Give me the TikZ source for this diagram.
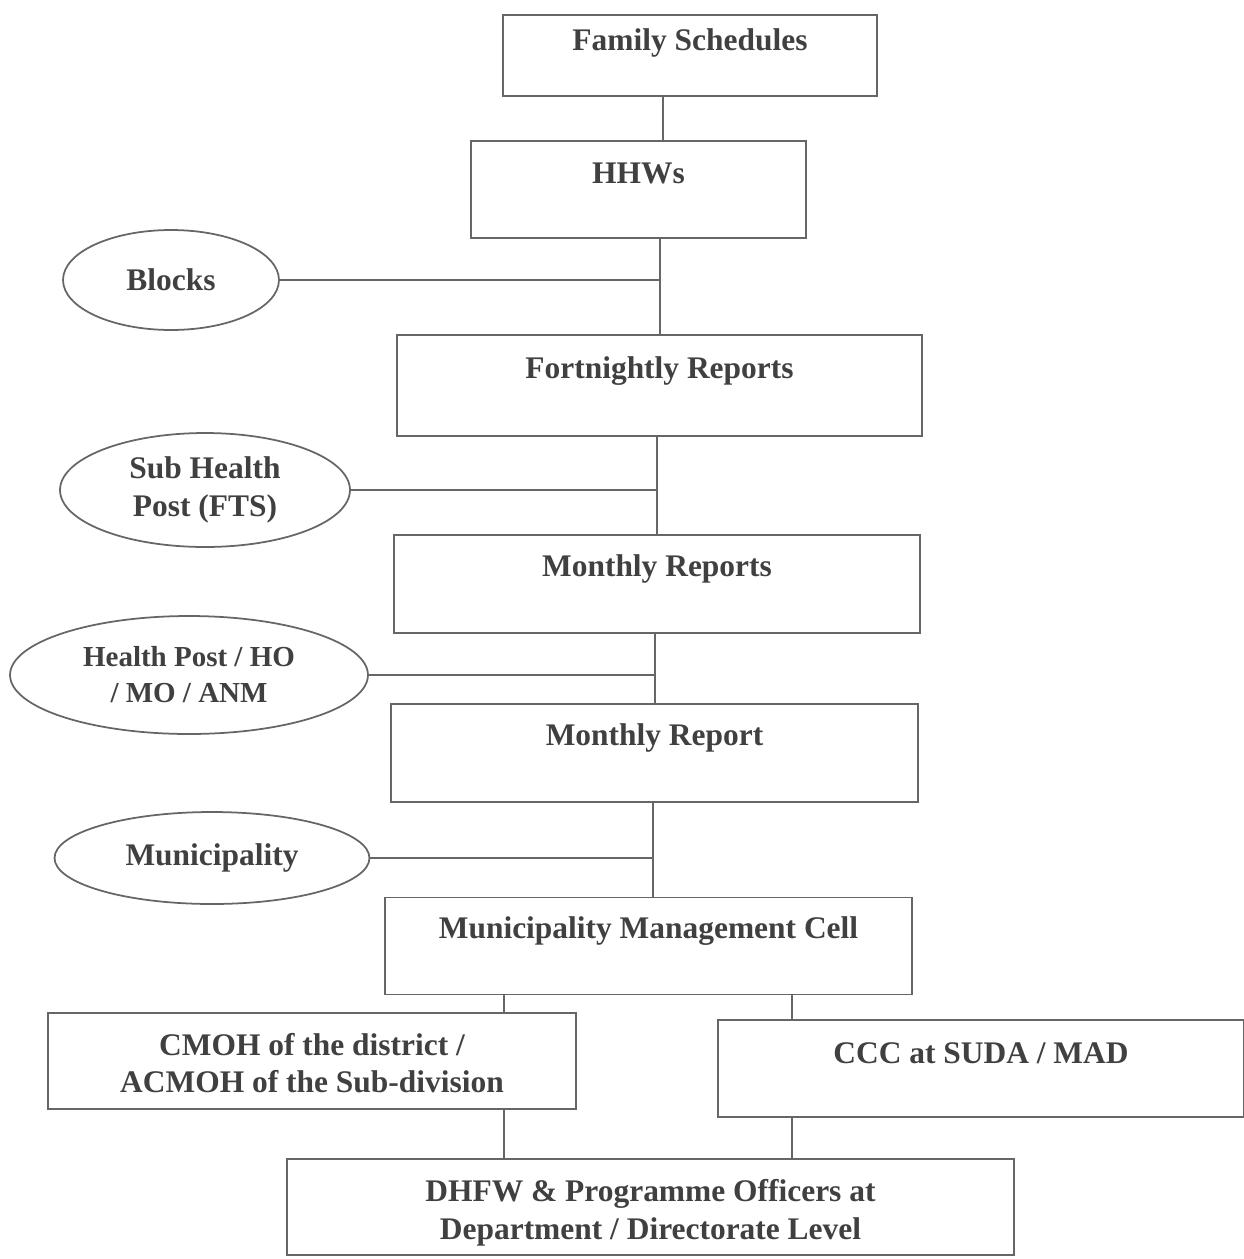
\documentclass[tikz,border=0pt]{standalone}
\usepackage{fontspec}
\setmainfont{Liberation Serif}
\usetikzlibrary{shapes.geometric}

\tikzset{
  box/.style={draw=black!60, line width=1pt, rectangle, inner sep=0pt},
  oval/.style={draw=black!60, line width=1pt, ellipse, inner sep=0pt, align=center,
    text=black!75, font=\fontsize{17.9}{21.5}\selectfont\bfseries},
  txt/.style={align=center, text=black!75, font=\fontsize{17.9}{21.5}\selectfont\bfseries},
  link/.style={draw=black!60, line width=1pt}
}

\begin{document}
\begin{tikzpicture}[x=0.02cm,y=-0.02cm]
\useasboundingbox (0,0) rectangle (1244,1259);

% report boxes down the middle
\node[box, minimum width=7.48cm, minimum height=1.62cm] (fam) at (690,55.5) {};
\node[box, minimum width=6.7cm, minimum height=1.94cm] (hhw) at (638.5,189.5) {};
\node[box, minimum width=10.5cm, minimum height=2.02cm] (fort) at (659.5,385.5) {};
\node[box, minimum width=10.52cm, minimum height=1.96cm] (mons) at (657,584) {};
\node[box, minimum width=10.54cm, minimum height=1.96cm] (mon) at (654.5,753) {};
\node[box, minimum width=10.54cm, minimum height=1.94cm] (mmc) at (648.5,946) {};
\node[box, minimum width=10.56cm, minimum height=1.92cm] (cmoh) at (312,1061) {};
\node[box, minimum width=10.52cm, minimum height=1.94cm] (ccc) at (981,1068.5) {};
\node[box, minimum width=14.54cm, minimum height=1.92cm] (dhfw) at (650.5,1207) {};

\node[txt] (famtxt) at ([yshift=-0.58cm]fam.north) {Family Schedules};
\node[txt] (hhwtxt) at ([yshift=-0.66cm]hhw.north) {HHWs};
\node[txt] (forttxt) at ([yshift=-0.74cm]fort.north) {Fortnightly Reports};
\node[txt] (monstxt) at ([yshift=-0.7cm]mons.north) {Monthly Reports};
\node[txt] (montxt) at ([yshift=-0.7cm]mon.north) {Monthly Report};
\node[txt] (mmctxt) at ([yshift=-0.68cm]mmc.north) {Municipality Management Cell};
\node[txt] (cmohtxt) at ([yshift=-0.04cm]cmoh.center) {CMOH of the district /\\ACMOH of the Sub-division};
\node[txt] (ccctxt) at ([yshift=-0.68cm]ccc.north) {CCC at SUDA / MAD};
\node[txt] (dhfwtxt) at ([yshift=-0.12cm]dhfw.center) {DHFW \& Programme Officers at\\Department / Directorate Level};

% the offices on the left
\node[oval, minimum width=4.32cm, minimum height=2cm] (blk) at (171,280) {Blocks};
\node[oval, minimum width=5.8cm, minimum height=2.28cm] (shp) at (205,490) {Sub Health\\Post (FTS)};
\node[oval, minimum width=7.16cm, minimum height=2.36cm, font=\fontsize{16.5}{20.5}\selectfont\bfseries] (hp) at (189,675) {Health Post / HO\\/ MO / ANM};
\node[oval, minimum width=6.3cm, minimum height=1.84cm] (mun) at (212,858) {Municipality};

% spine
\coordinate (s1) at (663,0);
\coordinate (s2) at (660,0);
\coordinate (s3) at (657,0);
\coordinate (s4) at (655,0);
\coordinate (s5) at (653,0);
\coordinate (l1) at (504,0);
\coordinate (l2) at (792,0);

\draw[link] (fam.south -| s1) -- (hhw.north -| s1);
\draw[link] (hhw.south -| s2) -- (fort.north -| s2);
\draw[link] (fort.south -| s3) -- (mons.north -| s3);
\draw[link] (mons.south -| s4) -- (mon.north -| s4);
\draw[link] (mon.south -| s5) -- (mmc.north -| s5);

\draw[link] (blk.east) -- (blk.east -| s2);
\draw[link] (shp.east) -- (shp.east -| s3);
\draw[link] (hp.east) -- (hp.east -| s4);
\draw[link] (mun.east) -- (mun.east -| s5);

\draw[link] (mmc.south -| l1) -- (cmoh.north -| l1);
\draw[link] (mmc.south -| l2) -- (ccc.north -| l2);
\draw[link] (cmoh.south -| l1) -- (dhfw.north -| l1);
\draw[link] (ccc.south -| l2) -- (dhfw.north -| l2);

\end{tikzpicture}
\end{document}
